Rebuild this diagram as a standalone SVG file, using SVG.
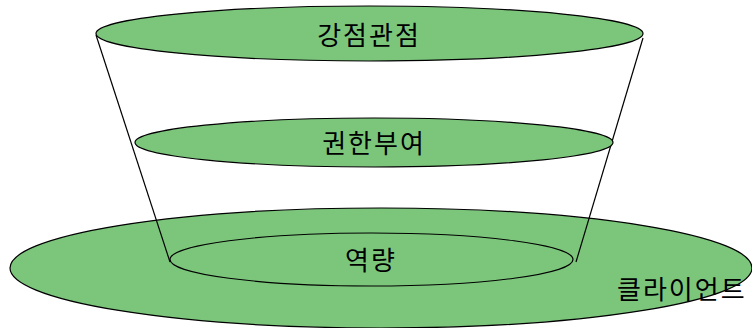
<svg xmlns="http://www.w3.org/2000/svg" width="752" height="328" viewBox="0 0 752 328">
<style>
.e{fill:#7cc67c;stroke:#000;stroke-width:1.2}
.c{stroke:#000;stroke-width:1.2;fill:none}
text{font-family:"Noto Sans CJK KR","Noto Sans",sans-serif;font-size:26px;letter-spacing:2px;fill:#000}
.m{text-anchor:middle;dominant-baseline:central}
</style>
<rect width="752" height="328" fill="#fff"/>
<g id="client"><ellipse class="e" cx="381" cy="268" rx="371" ry="60"/><text x="617" y="299">클라이언트</text></g>
<g id="capability"><ellipse class="e" cx="371.5" cy="259.5" rx="201.5" ry="26.5"/><text class="m" x="371" y="258">역량</text></g>
<g id="connectors"><line class="c" x1="96" y1="35" x2="170" y2="262"/><line class="c" x1="643" y1="38" x2="576" y2="262"/></g>
<g id="empowerment"><ellipse class="e" cx="374" cy="142.5" rx="239" ry="24.5"/><text class="m" x="374" y="141">권한부여</text></g>
<g id="strengths"><ellipse class="e" cx="369.5" cy="33.5" rx="273.5" ry="27.5"/><text class="m" x="369" y="33">강점관점</text></g>
</svg>
